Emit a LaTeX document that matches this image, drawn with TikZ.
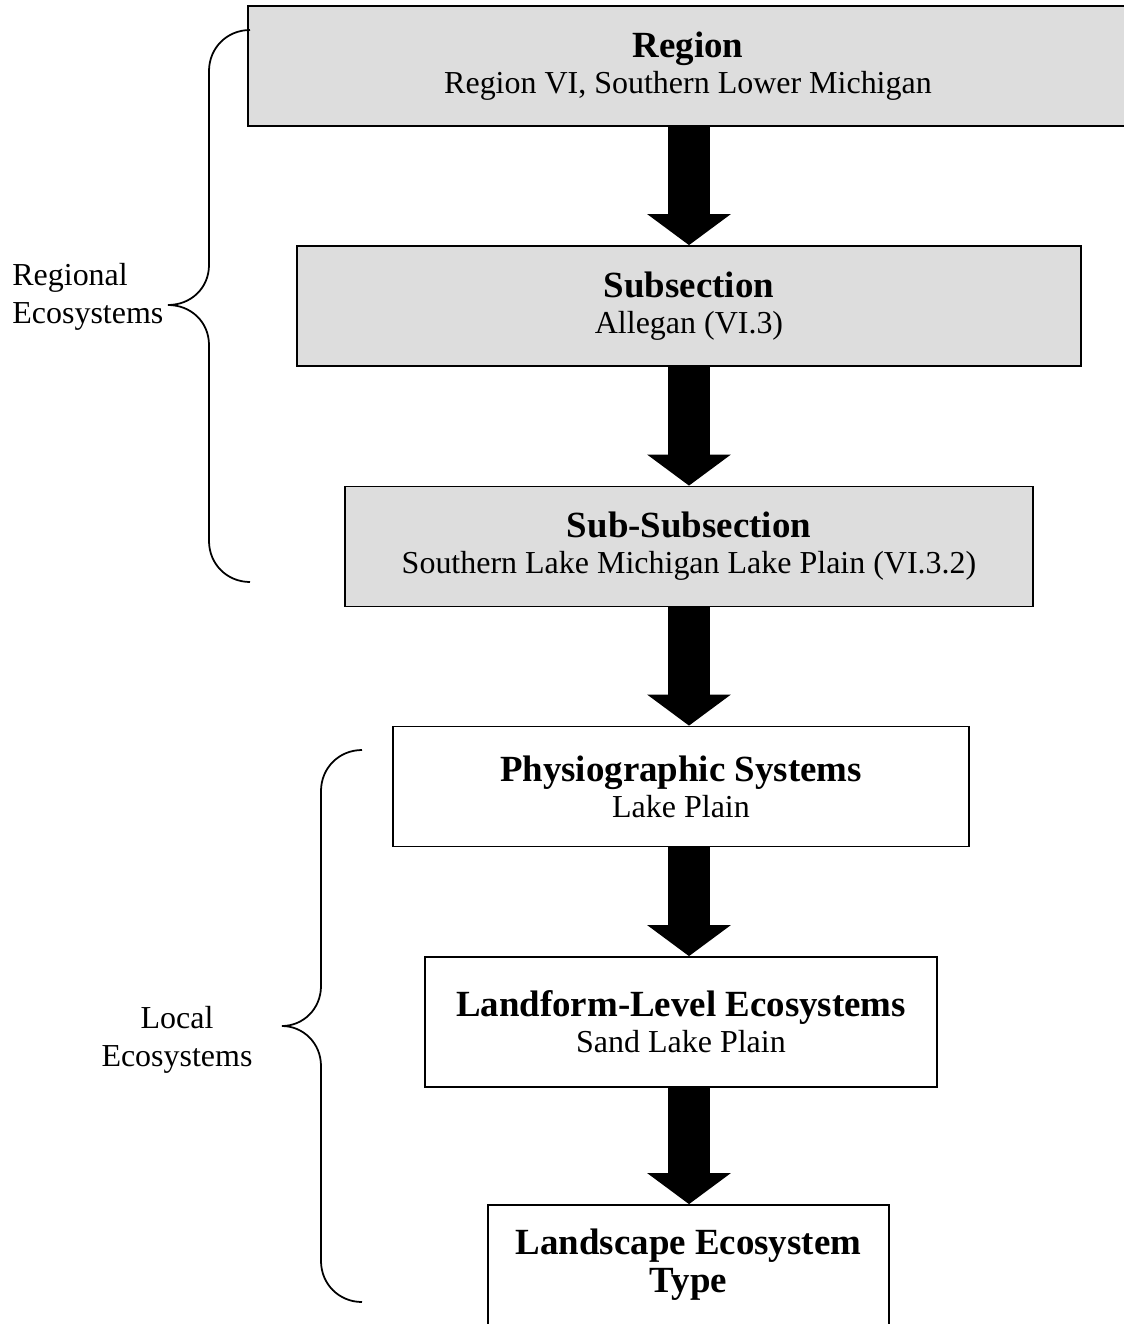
\documentclass[tikz,border=0pt]{standalone}
\usepackage{fontspec}
\setmainfont{Liberation Serif}
\usetikzlibrary{arrows.meta}
\definecolor{boxgray}{HTML}{DDDDDD}
\newcommand{\lvl}[2]{{\fontsize{21}{24}\selectfont\bfseries #1}\\#2}

\begin{document}
\begin{tikzpicture}[x=0.02cm,y=-0.02cm,
  font=\fontsize{18.2}{21.6}\selectfont,
  level/.style={draw,line width=1pt,shape=rectangle,align=center,
    minimum height=2.4cm,font=\fontsize{18.2}{20.5}\selectfont},
  shaded/.style={level,fill=boxgray},
  down/.style={line width=0.84cm,-{Triangle[width=1.64cm,length=0.62cm]}},
  brace/.style={line width=1pt}]
  \useasboundingbox (0,0) rectangle (1124,1324);
  \coordinate (axis) at (689,0);
  % regional levels
  \node[shaded,minimum width=17.6cm] (region) at (688,66) {\lvl{Region}{Region VI, Southern Lower Michigan}};
  \node[shaded,minimum width=15.68cm] (subsection) at (689,306) {\lvl{Subsection}{Allegan (VI.3)}};
  \node[shaded,minimum width=13.76cm] (subsub) at (689,546.5) {\lvl{Sub-Subsection}{Southern Lake Michigan Lake Plain (VI.3.2)}};
  % local levels
  \node[level,minimum width=11.52cm] (physio) at (681,786.5) {\lvl{Physiographic Systems}{Lake Plain}};
  \node[level,minimum width=10.24cm,minimum height=2.6cm] (landform) at (681,1022) {\lvl{Landform-Level Ecosystems}{Sand Lake Plain}};
  \node[level,minimum width=8.02cm,font=\fontsize{21}{21.6}\selectfont\bfseries] (landscape) at (688.5,1265) {Landscape Ecosystem\\Type};
  \draw[down] (region.south -| axis) -- (subsection.north -| axis);
  \draw[down] (subsection.south -| axis) -- (subsub.north -| axis);
  \draw[down] (subsub.south -| axis) -- (physio.north -| axis);
  \draw[down] (physio.south -| axis) -- (landform.north -| axis);
  \draw[down] (landform.south -| axis) -- (landscape.north -| axis);
  % braces
  \draw[brace] (250,30) .. controls (227,30) and (209,48) .. (209,71) -- (209,265)
    .. controls (209,288) and (191,305) .. (168,305)
    .. controls (191,305) and (209,322) .. (209,345) -- (209,541)
    .. controls (209,564) and (227,582) .. (250,582);
  \draw[brace] (362,750) .. controls (339,750) and (321,768) .. (321,791) -- (321,986)
    .. controls (321,1009) and (303,1026) .. (282,1026)
    .. controls (303,1026) and (321,1043) .. (321,1066) -- (321,1261)
    .. controls (321,1284) and (339,1302) .. (362,1302);
  \node[anchor=west,align=left,inner sep=0pt] (regional) at (12,297) {Regional\\Ecosystems};
  \node[align=center,inner sep=0pt] (local) at (177,1040) {Local\\Ecosystems};
\end{tikzpicture}
\end{document}
